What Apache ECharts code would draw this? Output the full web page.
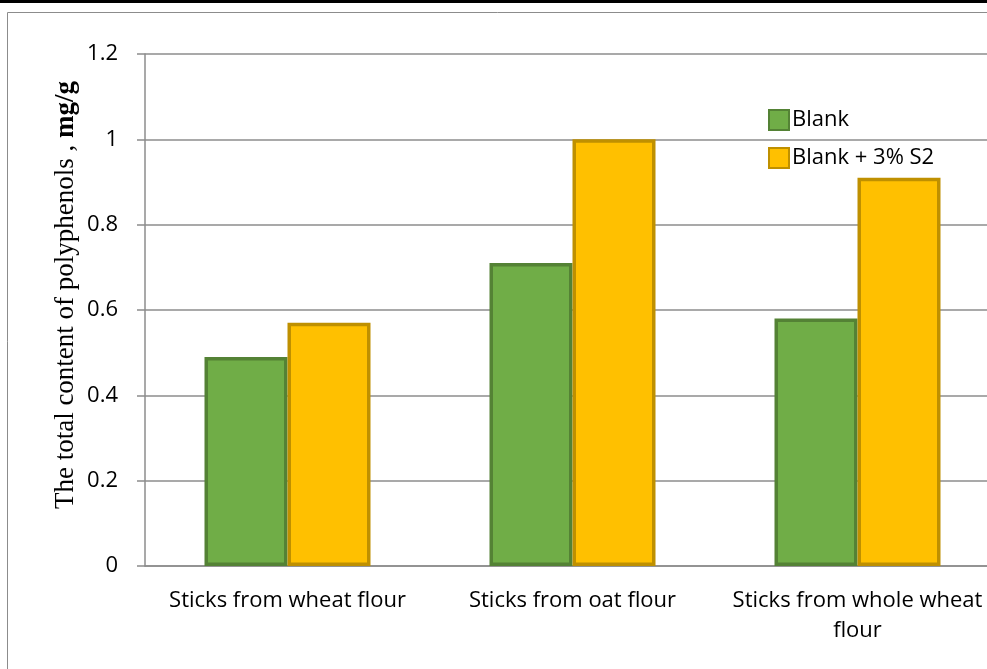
<!DOCTYPE html>
<html>
<head>
<meta charset="utf-8">
<script src="https://cdn.jsdelivr.net/npm/echarts@6/dist/echarts.min.js"></script>
<style>
html,body{margin:0;padding:0;background:#fff;}
#container{width:987px;height:669px;}
</style>
</head>
<body>
<div id="container"></div>
<script>
// categories and values
var categories = ['Sticks from wheat flour', 'Sticks from oat flour', 'Sticks from whole wheat\nflour'];
var blank = [0.49, 0.71, 0.58];
var blankS2 = [0.57, 1.0, 0.91];
var yTicks = [0, 0.2, 0.4, 0.6, 0.8, 1, 1.2];

var myChart = echarts.init(document.getElementById('container'));
var labelFont = 'Open Sans';

var option = {
    backgroundColor: '#fff',
    animation: false,
    graphic: [
        // frame of the chart area
        {type: 'rect', shape: {x: 0, y: 0, width: 987, height: 3}, style: {fill: '#000'}, silent: true},
        {type: 'rect', shape: {x: 7.5, y: 12.5, width: 1000, height: 700}, style: {fill: null, stroke: '#8c8c8c', lineWidth: 1}, silent: true},
        // y axis title (serif, unit in bold)
        {
            type: 'text',
            x: 66,
            y: 295,
            rotation: Math.PI / 2,
            silent: true,
            style: {
                text: '{a|The total content of polyphenols , }{b|mg/g}',
                align: 'center',
                verticalAlign: 'middle',
                rich: {
                    a: {fontFamily: 'Liberation Serif', fontSize: 27, fill: '#000'},
                    b: {fontFamily: 'Liberation Serif', fontSize: 27, fontWeight: 'bold', fill: '#000'}
                }
            }
        }
    ],
    legend: {
        orient: 'vertical',
        left: 768,
        top: 109,
        padding: 0,
        itemWidth: 20,
        itemHeight: 20,
        itemGap: 16,
        icon: 'rect',
        textStyle: {fontFamily: labelFont, fontSize: 22, color: '#000', lineHeight: 20, padding: [0, 0, 0, -2]},
        data: ['Blank', 'Blank + 3% S2']
    },
    // the plot runs past the right edge of the picture
    grid: {left: 145, width: 855, top: 54, bottom: 103, containLabel: false, outerBoundsMode: 'none'},
    xAxis: {
        type: 'category',
        data: categories,
        axisLine: {show: true, lineStyle: {color: '#8c8c8c', width: 1.5}},
        axisTick: {show: false},
        axisLabel: {fontFamily: labelFont, fontSize: 22, color: '#000', margin: 20, lineHeight: 30, interval: 0}
    },
    yAxis: {
        type: 'value',
        min: 0,
        max: 1.2,
        interval: 0.2,
        axisLine: {show: true, lineStyle: {color: '#8c8c8c', width: 1.5}},
        axisTick: {show: true, inside: false, length: 8, lineStyle: {color: '#8c8c8c', width: 1.5}},
        splitLine: {show: true, lineStyle: {color: '#8c8c8c', width: 1.5}},
        axisLabel: {
            fontFamily: labelFont, fontSize: 22, color: '#000', margin: 27,
            formatter: function (v) {
                for (var i = 0; i < yTicks.length; i++) {
                    if (Math.abs(yTicks[i] - v) < 1e-9) return String(yTicks[i]);
                }
                return '';
            }
        }
    },
    series: [
        {
            name: 'Blank',
            type: 'bar',
            data: blank,
            barWidth: 83,
            barGap: '0%',
            itemStyle: {color: '#70AD47', borderColor: '#548235', borderWidth: 3.5}
        },
        {
            name: 'Blank + 3% S2',
            type: 'bar',
            data: blankS2,
            barWidth: 83,
            barGap: '0%',
            itemStyle: {color: '#FFC000', borderColor: '#BF9000', borderWidth: 3.5}
        }
    ]
};
myChart.setOption(option);
</script>
</body>
</html>
